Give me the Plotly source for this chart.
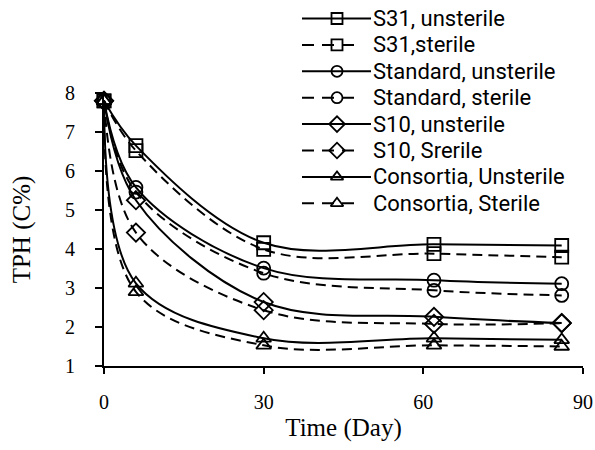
import plotly.graph_objects as go

days = [0, 6, 30, 62, 86]

names = ["S31, unsterile", "S31,sterile", "Standard, unsterile", "Standard, sterile",
         "S10, unsterile", "S10, Srerile", "Consortia, Unsterile", "Consortia, Sterile"]

s31_unsterile = [7.8, 6.65, 4.16, 4.12, 4.09]
s31_sterile = [7.8, 6.52, 3.99, 3.88, 3.79]
std_unsterile = [7.8, 5.58, 3.51, 3.2, 3.11]
std_sterile = [7.8, 5.46, 3.38, 2.94, 2.81]
s10_unsterile = [7.8, 5.25, 2.64, 2.26, 2.1]
s10_sterile = [7.8, 4.42, 2.43, 2.08, 2.1]
cons_unsterile = [7.8, 3.12, 1.71, 1.71, 1.67]
cons_sterile = [7.8, 2.9, 1.53, 1.53, 1.5]

series = [s31_unsterile, s31_sterile, std_unsterile, std_sterile,
          s10_unsterile, s10_sterile, cons_unsterile, cons_sterile]
symbols = ["square-open", "square-open", "circle-open", "circle-open",
           "diamond-open", "diamond-open", "triangle-up-open", "triangle-up-open"]
dashes = ["solid", "10px,6px"] * 4

x_ticks = [0, 30, 60, 90]
y_ticks = [1, 2, 3, 4, 5, 6, 7, 8]

W, H = 595, 450
# plot-area box in pixels (layout only)
PX0, PX1, PY_TOP, PY_BOT = 104, 583, 93, 366
# legend layout in pixels
LEG_LINE_X0, LEG_LINE_X1_SOLID, LEG_LINE_X1_DASH = 302, 371, 357
LEG_MARK_X, LEG_TEXT_X = 337, 372
LEG_ROW0, LEG_ROW_STEP = 18.5, 26.4

def msize(sym):
    return 14 if "diamond" in sym else 13

fig = go.Figure()
for name, ys, sym, dash in zip(names, series, symbols, dashes):
    fig.add_trace(go.Scatter(
        x=days, y=ys, name=name, mode="lines+markers",
        line=dict(color="black", width=2, dash=dash, shape="spline", smoothing=1.0),
        marker=dict(symbol=sym, size=msize(sym), color="black",
                    line=dict(width=1.8, color="black")),
        cliponaxis=False, showlegend=False,
    ))

# hand-built legend on an invisible pixel-space overlay axis
annotations = []
for i, (name, sym) in enumerate(zip(names, symbols)):
    yrow = LEG_ROW0 + i * LEG_ROW_STEP
    solid = (i % 2 == 0)
    fig.add_trace(go.Scatter(
        x=[LEG_LINE_X0, LEG_LINE_X1_SOLID if solid else LEG_LINE_X1_DASH], y=[yrow, yrow],
        mode="lines",
        line=dict(color="black", width=2, dash="solid" if solid else "12px,8px"),
        xaxis="x2", yaxis="y2", showlegend=False, hoverinfo="skip"))
    fig.add_trace(go.Scatter(
        x=[LEG_MARK_X], y=[yrow], mode="markers",
        marker=dict(symbol=sym, size=msize(sym) - 2, color="black",
                    line=dict(width=1.8, color="black")),
        xaxis="x2", yaxis="y2", showlegend=False, hoverinfo="skip"))
    annotations.append(dict(
        x=LEG_TEXT_X, y=yrow, xref="x2", yref="y2", text=name, showarrow=False,
        xanchor="left", yanchor="middle", borderpad=0,
        font=dict(family="Roboto", size=22, color="black")))

tick_font = dict(family="Liberation Serif", size=20, color="black")
fig.update_layout(
    width=W, height=H,
    margin=dict(l=0, r=0, t=0, b=0),
    paper_bgcolor="white", plot_bgcolor="rgba(0,0,0,0)",
    annotations=annotations,
    xaxis=dict(domain=[PX0 / W, PX1 / W], anchor="y",
               range=[0, 90], tickvals=x_ticks, ticktext=[str(v) for v in x_ticks],
               showline=True, linecolor="black", linewidth=2,
               ticks="outside", ticklen=6, tickwidth=2, tickcolor="black",
               showgrid=False, zeroline=False, tickfont=tick_font,
               ticklabelstandoff=11, automargin=False,
               title=dict(text="Time (Day)",
                          font=dict(family="Liberation Serif", size=25, color="black"),
                          standoff=6)),
    yaxis=dict(domain=[(H - PY_BOT) / H, (H - PY_TOP) / H], anchor="x",
               range=[1, 8], tickvals=y_ticks, ticktext=[str(v) for v in y_ticks],
               showline=True, linecolor="black", linewidth=2,
               ticks="outside", ticklen=7, tickwidth=2, tickcolor="black",
               showgrid=False, zeroline=False, tickfont=tick_font,
               ticklabelstandoff=16, automargin=False,
               title=dict(text="TPH (C%)",
                          font=dict(family="Liberation Serif", size=25, color="black"),
                          standoff=27)),
    xaxis2=dict(domain=[0, 1], range=[0, W], visible=False, anchor="y2", fixedrange=True),
    yaxis2=dict(domain=[0, 1], range=[H, 0], visible=False, anchor="x2", fixedrange=True),
)

fig.write_html("out.html")
